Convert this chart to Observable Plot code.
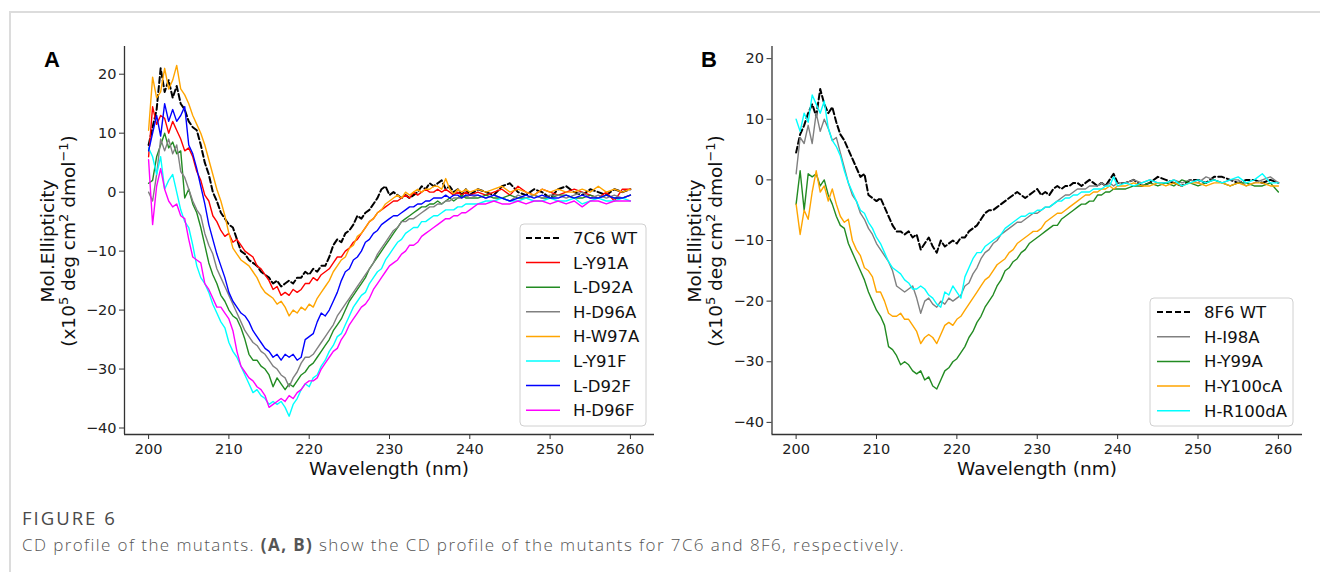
<!DOCTYPE html>
<html><head><meta charset="utf-8">
<script src="https://cdn.jsdelivr.net/npm/d3@7"></script>
<script src="https://cdn.jsdelivr.net/npm/@observablehq/plot@0.6"></script>
<style>
html,body{margin:0;padding:0;background:#fff;}
body{width:1320px;height:572px;overflow:hidden;position:relative;font-family:"DejaVu Sans",sans-serif;}
#frame{position:absolute;left:9px;top:11px;width:1330px;height:600px;border-top:2px solid #dcdcdc;border-left:2px solid #dcdcdc;box-sizing:border-box;}
#panelA{position:absolute;left:0;top:0;}
#panelB{position:absolute;left:660px;top:0;}
#fig{position:absolute;left:22px;top:505px;font-family:"Open Sans",sans-serif;font-size:18.5px;color:#4a4a4a;letter-spacing:2px;white-space:nowrap;}
#cap{position:absolute;left:22px;top:533px;font-family:"Open Sans",sans-serif;font-size:17px;color:#555;font-weight:300;letter-spacing:1.4px;white-space:nowrap;}
#cap b{font-weight:700;color:#555;}
#err{position:absolute;left:300px;top:5px;color:red;font-size:12px;}
</style></head>
<body>
<div id="frame"></div>
<div id="panelA"></div>
<div id="panelB"></div>
<div id="fig">FIGURE 6</div>
<div id="cap">CD profile of the mutants. <b>(A, B)</b> show the CD profile of the mutants for 7C6 and 8F6, respectively.</div>
<div id="err"></div>
<script>
// ---------- data ----------
const wavelengths = [
200,200.5,201,201.5,202,202.5,203,203.5,204,204.5,
205,205.5,206,206.5,207,207.5,208,208.5,209,209.5,
210,210.5,211,211.5,212,212.5,213,213.5,214,214.5,
215,215.5,216,216.5,217,217.5,218,218.5,219,219.5,
220,220.5,221,221.5,222,222.5,223,223.5,224,224.5,
225,225.5,226,226.5,227,227.5,228,228.5,229,229.5,
230,230.5,231,231.5,232,232.5,233,233.5,234,234.5,
235,235.5,236,236.5,237,237.5,238,238.5,239,239.5,
240,
241,242,243,244,245,246,247,248,249,250,
251,252,253,254,255,256,257,258,259,260];
const xTicks = [200, 210, 220, 230, 240, 250, 260];
const yTicks = [20, 10, 0, -10, -20, -30, -40];

// Panel A (7C6)
const namesA = ["7C6 WT", "L-Y91A", "L-D92A", "H-D96A", "H-W97A", "L-Y91F", "L-D92F", "H-D96F"];
const wtA = [
8,11,14,21,17,19,16,18,15,14,
12,11,10.5,8,5,3,0,-1.5,-3.5,-4.5,
-5.5,-6,-8,-10,-10.5,-11.5,-12,-12.5,-13.5,-14,
-14.5,-15.5,-15,-16,-15.5,-15,-15.5,-14.5,-14.5,-13.5,
-14,-13,-13.5,-12.5,-12.5,-11,-9,-8,-8.5,-7,
-6.5,-5.5,-4,-4.5,-3.5,-3,-2,-1,0.5,1,
-0.5,0,-0.5,-1,-0.5,-1,-0.5,0,1,0.5,
1.5,1,1.5,2,0.5,1,0,0.5,-0.5,0.5,
-0.5,
0.5,0,-0.5,1,1.5,0,-0.5,0.5,0,-1,
0.5,1,0,-0.5,0.5,0,-0.5,0.5,0,0.5];
const ly91aA = [
6,14.5,11.5,13,12.5,10,12,10.5,9,7,
7.5,6,3.5,2,-0.5,-1.5,-4,-5,-6.5,-7.5,
-7,-8.5,-8,-9,-10,-10.5,-11,-12.5,-13,-14,
-15,-16.5,-16,-17.5,-17,-17.5,-16.5,-17,-16.5,-15.5,
-15.5,-14.5,-15,-14,-13.5,-13,-12,-11,-11,-10,
-9.5,-8.5,-8,-7,-6,-5,-4.5,-3.5,-3,-2.5,
-2,-1.5,-1.5,-1,-0.5,-1,0,-0.5,0,0.5,
0,0,0.5,0,0.5,0,-0.5,0,-0.5,0,
-0.5,
0,-0.5,0,0.5,-0.5,1,0,-0.5,0.5,0,
-0.5,0,0.5,0,-0.5,-1,0,-1.5,0.5,0.5];
const ld92aA = [
1.5,2,6,8,10,7.5,8.5,6.5,7,-1,
0.5,-2,-3.5,-6,-9,-12,-14,-15.5,-17.5,-18.5,
-20,-21,-21.5,-23,-25,-27.5,-28.5,-28.5,-29.5,-30,
-31,-33,-31.5,-32.5,-33.5,-32.5,-33,-32,-31,-30.5,
-29.5,-29,-28,-27,-26,-25,-23.5,-22.5,-21.5,-20,
-18.5,-17.5,-16.5,-15.5,-14.5,-13,-12,-11,-10,-9,
-8,-7,-6,-5,-4.5,-4,-3.5,-3,-2.5,-2.5,
-2,-2,-1.5,-2,-1.5,-1,-1.5,-1,-0.5,-1,
-1,
-1,-0.5,-1,-1,-0.5,-1,-1,-0.5,-1,-1,
-0.5,-0.5,-1,-1,-0.5,-1,-0.5,-1,-1,-0.5];
const hd96aA = [
0,-1.5,3,9,7,9,6.5,8,3.5,2.5,
0.5,-1.5,-3,-4,-7,-9,-10.5,-13,-14.5,-16,
-17.5,-19,-20.5,-22,-23.5,-24.5,-25.5,-26,-27,-27.5,
-28.5,-29.5,-30,-31,-31.5,-33,-31.5,-30.5,-29,-28,
-28,-27.5,-26.5,-25.5,-24.5,-23.5,-22.5,-21,-20,-19,
-18,-17,-16,-15,-14,-13,-12,-10.5,-9.5,-8.5,
-7.5,-6.5,-6,-5,-5,-4.5,-4.5,-4,-3.5,-3,
-2.5,-2.5,-2,-2,-1.5,-1.5,-1,-1,-1,-0.5,
-1,
-0.5,-1,-0.5,-1,-1.5,-0.5,-1,-0.5,-1,-0.5,
-0.5,-1,-0.5,0,-1,-0.5,-1,-0.5,-1,-0.5];
const hw97aA = [
10.5,19.5,16,17,21,17.5,19,21.5,17.5,16.5,
15,13,11.5,10,8,5.5,3,0.5,-1.5,-4,
-7,-9.5,-10.5,-11.5,-12,-12.5,-13.5,-14.5,-16,-17,
-17.5,-18,-19,-18.5,-19.5,-21,-20,-20.5,-19.5,-20,
-19,-19.5,-18,-17,-16,-15,-13.5,-12.5,-11.5,-11,
-9.5,-9,-7.5,-7,-6,-5,-4.5,-3.5,-3,-2,
-1.5,-1,-0.5,-1,0,-0.5,0,0.5,0,0.5,
0.5,1,1,0.5,2.3,0.5,-0.3,0.5,0,0.5,
0,
0.5,0,0.5,1,0,0.5,0,-0.5,0.5,0,
0.5,0,0,0.5,0,1,0,0.5,0,0.5];
const ly91fA = [
7.5,6,3,6,0.5,2,3,0,-3,-5,
-6,-9,-12.5,-14.5,-15.5,-17,-19,-20.5,-22,-23,
-25.5,-27,-28,-29.5,-31,-32.5,-34,-33.5,-34.5,-35,
-36,-35.5,-36,-35.5,-36.5,-38,-36,-35,-33.5,-32.5,
-33,-31.5,-31,-29.5,-28.5,-27,-26,-24.5,-24,-22.5,
-21,-19.5,-18.5,-17.5,-17,-15.5,-14.5,-13.5,-13,-11.5,
-10.5,-9.5,-8.5,-8,-7,-6.5,-6,-6,-5,-5,
-4.5,-4,-4,-3.5,-3,-3,-3,-2.5,-2.5,-2,
-2,
-2,-1.5,-1.5,-1,-1.5,-1.5,-1,-1.5,-1.5,-1,
-1.5,-1.5,-1,-2,-1.5,-1,-1.5,-1.5,-1,-1.5];
const ld92fA = [
7,10,13,9.5,15,12,14,12,13,14.5,
8,6.5,4,1,-2,-5.5,-8,-10.5,-12.5,-14.5,
-17,-18.5,-19.5,-20.5,-21,-22,-23.5,-24.5,-25.5,-26.5,
-27,-28,-27.5,-28.5,-27.5,-28,-27.5,-28.5,-28,-25,
-24.5,-24,-22,-20.5,-21,-20,-18.5,-17,-15,-13.5,
-13,-11.5,-11,-10,-8.5,-8,-7,-6.5,-5.5,-5,
-4.5,-4,-4,-3.5,-3,-2.5,-2.5,-2,-2,-1.5,
-1.5,-1,-1,-1,-0.5,-1,-0.5,-0.5,-1,-0.5,
-0.5,
-0.5,-1,-0.5,-1,-1.5,-1,-0.5,-1,-0.5,-1,
-1,-0.5,-1,-0.5,-1,-1,-0.5,-1,-1,-0.5];
const hd96fA = [
5.5,-5.5,1,4,0.5,-1.5,-2.5,-2,-4,-4.5,
-8,-11,-11.5,-12,-15.5,-16.5,-18,-19.5,-19.5,-20.5,
-21.5,-23.5,-27,-29.5,-30.5,-31.5,-32,-33,-33.5,-34.5,
-36.5,-36,-35.5,-35,-35.5,-34.5,-35,-34,-33.5,-32.5,
-32,-32,-31.5,-30,-29,-28,-27,-26.5,-25,-24,
-22.5,-21.5,-20.5,-19.5,-19,-18,-16.5,-15.5,-14.5,-13.5,
-12.5,-12,-11.5,-10.5,-10,-9,-9,-8.5,-7.5,-7,
-6.5,-6,-5.5,-5,-4.5,-4.5,-4,-4,-3.5,-3.5,
-3,
-2,-2,-1.5,-2,-2,-1.5,-2,-1.5,-1.5,-2,
-1.5,-2,-1.5,-2.5,-1.5,-1.5,-2,-1.5,-1.5,-1.5];

// Panel B (8F6)
const namesB = ["8F6 WT", "H-I98A", "H-Y99A", "H-Y100cA", "H-R100dA"];
const wtB = [
4.5,7.5,9,11,12.5,10.5,15,12.5,11,12,
9.5,7.5,6.5,5,3.5,2,0.5,1,-2.5,-3,
-3.5,-3,-4.5,-6,-7.5,-8.5,-8.5,-9,-8.5,-9.5,
-9,-11.5,-10.5,-9.5,-11,-12,-10,-11,-10.5,-10,
-10.5,-9.5,-9.5,-8.5,-8,-7.5,-6.5,-5.5,-5,-5,
-4.5,-4,-3.5,-3,-2.5,-2,-2.5,-3,-2.5,-2,
-1.5,-2.5,-2,-2.5,-1.5,-1,-1.5,-1,-1,-0.5,
-0.5,-1,-0.5,0,-0.5,-1,-0.5,-1,0,1,
-0.5,
-0.5,0,-1,-0.5,0.5,0,-0.5,-1,0,0,
-0.5,0.5,0.5,0,-0.5,0,0,-0.5,0,-0.5];
const hi98aB = [
1,7,6,9,6,11,8,10,8.5,6.5,
7,4.5,2,-0.5,-2.5,-3.5,-5.5,-6.5,-8,-9,
-10.5,-11.5,-12.5,-13.5,-15,-17.5,-18,-18.5,-18,-17.5,
-19.5,-22,-20,-19.5,-20.5,-21,-20,-20.5,-19.5,-20,
-19.5,-19,-17.5,-17,-15.5,-14.5,-13,-12,-11.5,-10.5,
-10,-9,-8.5,-8,-7.5,-7,-7,-6.5,-6,-5.5,
-5.5,-5,-4.5,-4.5,-4,-3.5,-3,-2.5,-2.5,-2,
-1.5,-1.5,-1.5,-1,-1,-1,-0.5,-1,-0.5,-1,
-0.5,
-0.5,0,-0.5,0,-0.5,-0.5,0,-0.5,0,-0.5,
0.5,0,-0.5,0,0,-1,-0.5,0,0.5,-0.5];
const hy99aB = [
-4,1.5,-5,1,0.5,1,-1,0,-2.5,-4,
-6,-7.5,-8,-10.5,-12,-13.5,-15,-16.5,-18.5,-20,
-21.5,-22.5,-24,-27.5,-28,-29,-30.5,-30,-30.5,-31.5,
-32,-31.5,-33,-32.5,-34,-34.5,-33,-31.5,-31,-30,
-29.5,-28.5,-27.5,-26,-25,-23.5,-22.5,-21,-20,-19,
-17.5,-16.5,-15,-14.5,-13.5,-13,-12,-11.5,-10.5,-10,
-9.5,-9,-8.5,-8,-7.5,-7.5,-6.5,-6,-5.5,-5,
-4.5,-4,-4,-3.5,-3.5,-2.5,-2.5,-2,-2,-1.5,
-1.5,
-1.5,-1,-1,-0.5,-1,-0.5,-1,0,-0.5,-1,
-0.5,0,-0.5,-1,-0.5,-0.5,-1,-1,-0.5,-2];
const hy100caB = [
-4,-9,-5,-6.5,-2,1.5,-2,-1,-3.5,-1.5,
-4,-6,-7,-6.5,-10,-11.5,-12.5,-14.5,-15,-16,
-18.5,-18.5,-20,-22,-22.5,-22.5,-22,-23,-23,-24,
-25,-27,-26,-25.5,-26,-27,-25.5,-24,-23.5,-24,
-23,-22.5,-21.5,-20.5,-19.5,-18.5,-17.5,-16.5,-16,-15,
-14,-13.5,-13,-12,-11.5,-10.5,-10,-9.5,-9,-8.5,
-8.5,-8,-7,-6.5,-6,-5.5,-5.5,-5,-4.5,-4,
-3.5,-3,-2.5,-2.5,-2,-2,-1.5,-1.5,-1,-1.5,
-1,
-1,-0.5,-1,-1,-0.5,-1,-0.5,-1,-0.5,-0.5,
-1,-0.5,-0.5,-1,-0.5,-1,-0.5,-0.5,-1,-1];
const hr100daB = [
10,8,11,9.5,14,12.5,11,13,8.5,6.5,
5.5,4,1.5,-0.5,-2,-3.5,-5,-5.5,-7,-8,
-9.5,-10.5,-12,-13.5,-14.5,-15,-15.5,-16.5,-17,-18,
-18,-17.5,-18,-19,-19.5,-20.5,-21,-18.5,-19,-17.5,
-18.5,-19.5,-16,-14.5,-13,-12,-12,-11,-10.5,-10,
-9.5,-9,-8,-7.5,-7,-6.5,-6,-6,-5.5,-5.5,
-5,-5,-4.5,-4.5,-4,-3.5,-3.5,-3,-3,-2.5,
-2.5,-2,-2,-2,-1.5,-1.5,-1.5,-1,-1,0.5,
-1,
-0.5,-1,-0.5,0,-0.5,-0.5,0,-1,-0.5,0,
-0.5,0,-0.5,0,0.5,-0.5,0,1,-0.5,-0.5];

const valuesA = [wtA, ly91aA, ld92aA, hd96aA, hw97aA, ly91fA, ld92fA, hd96fA];
const valuesB = [wtB, hi98aB, hy99aB, hy100caB, hr100daB];

// ---------- styles ----------
const colorsA = ["#000000", "#ff0000", "#228b22", "#808080", "#ffa500", "#00ffff", "#0000ff", "#ff00ff"];
const colorsB = ["#000000", "#808080", "#228b22", "#ffa500", "#00ffff"];

const errs = [];
[...valuesA, ...valuesB].forEach((a, i) => { if (a.length !== wavelengths.length) errs.push(i + ":" + a.length); });
if (errs.length) document.getElementById("err").textContent = "len mismatch " + errs.join(" ");

function panel(cfg) {
  const marks = [];
  cfg.names.forEach((n, i) => {
    const data = wavelengths.map((w, j) => ({w, v: cfg.values[i][j]}));
    marks.push(Plot.line(data, {
      x: "w", y: "v", stroke: cfg.colors[i],
      strokeWidth: i === 0 ? 2 : 1.4,
      strokeDasharray: i === 0 ? "6,3" : null,
      strokeLinejoin: "round"
    }));
  });
  marks.push(Plot.ruleX([cfg.xDomain[0]], {stroke: "#333", strokeWidth: 1.3}));
  marks.push(Plot.ruleY([cfg.yDomain[0]], {stroke: "#333", strokeWidth: 1.3}));
  marks.push(Plot.axisX({ticks: xTicks, tickSize: 5, tickPadding: 4, label: null, stroke: "#333", fontSize: 14.5}));
  marks.push(Plot.axisY({ticks: yTicks, tickSize: 5, tickPadding: 3, label: null, stroke: "#333", fontSize: 14.5}));
  const svg = Plot.plot({
    width: 660, height: 480,
    marginLeft: cfg.ml, marginRight: cfg.mr, marginTop: 46, marginBottom: 46,
    x: {domain: cfg.xDomain, label: null},
    y: {domain: cfg.yDomain, label: null},
    style: {fontFamily: "DejaVu Sans", fontSize: "14.5px", color: "#222", background: "transparent", overflow: "visible"},
    marks
  });
  const s = d3.select(svg);
  // panel letter
  s.append("text").attr("x", cfg.letterX).attr("y", 67).attr("text-anchor", "start")
    .attr("font-family", "Liberation Sans, Arial, sans-serif").attr("font-weight", "bold")
    .attr("font-size", 22).attr("fill", "#000").text(cfg.letter);
  // y label (two lines)
  const yl = s.append("g").attr("font-family", "DejaVu Sans").attr("font-size", 18.5).attr("fill", "#111").attr("text-anchor", "middle");
  yl.append("text").attr("transform", `translate(${cfg.yl1},241) rotate(-90)`).text("Mol.Ellipticity");
  const t2 = yl.append("text").attr("transform", `translate(${cfg.yl2},241) rotate(-90)`);
  t2.append("tspan").text("(x10");
  t2.append("tspan").attr("baseline-shift", "super").attr("font-size", 13).text("5");
  t2.append("tspan").text(" deg cm");
  t2.append("tspan").attr("baseline-shift", "super").attr("font-size", 13).text("2");
  t2.append("tspan").text(" dmol");
  t2.append("tspan").attr("baseline-shift", "super").attr("font-size", 13).text("\u22121");
  t2.append("tspan").text(")");
  // x label
  s.append("text").attr("x", cfg.xlx).attr("y", 475).attr("text-anchor", "middle")
    .attr("font-family", "DejaVu Sans").attr("font-size", 18.5).attr("fill", "#111").text("Wavelength (nm)");
  // legend
  const lg = s.append("g").attr("text-anchor", "start");
  lg.append("rect").attr("x", cfg.lg.x).attr("y", cfg.lg.y).attr("width", cfg.lg.w).attr("height", cfg.lg.h)
    .attr("rx", 4).attr("fill", "white").attr("fill-opacity", 0.85).attr("stroke", "#d0d0d0").attr("stroke-width", 1);
  cfg.names.forEach((n, i) => {
    const yy = cfg.lg.y0 + i * cfg.lg.step;
    lg.append("line").attr("x1", cfg.lg.lx1).attr("x2", cfg.lg.lx2).attr("y1", yy).attr("y2", yy)
      .attr("stroke", cfg.colors[i]).attr("stroke-width", i === 0 ? 2 : 1.5)
      .attr("stroke-dasharray", i === 0 ? "6,3" : null);
    lg.append("text").attr("x", cfg.lg.tx).attr("y", yy).attr("dy", "0.36em").attr("text-anchor", "start")
      .attr("font-family", "DejaVu Sans").attr("font-size", 16.5).attr("fill", "#111").text(n);
  });
  return svg;
}

document.getElementById("panelA").appendChild(panel({
  names: namesA, values: valuesA, colors: colorsA,
  ml: 124, mr: 6, xDomain: [197, 263], yDomain: [-41.1, 24.7],
  letter: "A", letterX: 44, yl1: 54, yl2: 75, xlx: 389,
  lg: {x: 520, y: 224, w: 126, h: 202, y0: 238, step: 24.6, lx1: 526, lx2: 560, tx: 573}
}));
document.getElementById("panelB").appendChild(panel({
  names: namesB, values: valuesB, colors: colorsB,
  ml: 111.5, mr: 18, xDomain: [197, 263], yDomain: [-42, 22],
  letter: "B", letterX: 41, yl1: 41, yl2: 62, xlx: 377,
  lg: {x: 490, y: 298, w: 143, h: 128, y0: 312, step: 24.7, lx1: 497, lx2: 530, tx: 544}
}));
</script>
</body></html>
